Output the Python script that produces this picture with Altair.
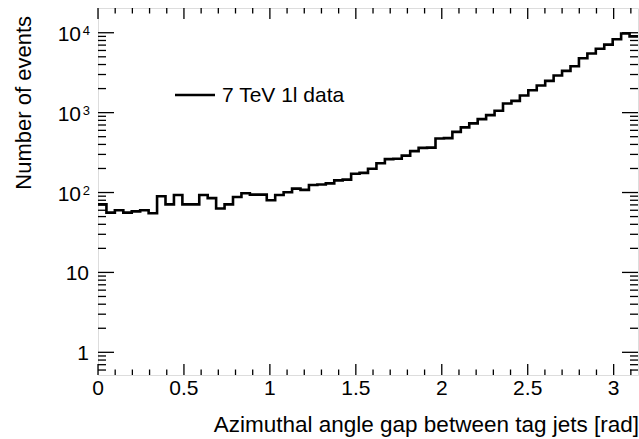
import altair as alt
import numpy as np
import pandas as pd

# Event counts per azimuthal-angle bin (64 equal bins from 0 to pi)
counts = [
    71, 56, 60, 56, 58, 60, 55, 90, 71, 93,
    71, 71, 93, 85, 63, 71, 88, 98, 94, 94,
    80, 93, 101, 112, 108, 124, 126, 130, 142, 145,
    172, 176, 198, 232, 262, 265, 290, 330, 362, 365,
    475, 480, 574, 653, 733, 830, 931, 1054, 1303, 1405,
    1641, 1910, 2188, 2500, 2917, 3334, 3810, 4800, 5500, 6300,
    7100, 8300, 9800, 9000,
]
n_bins = len(counts)

x_major = [0, 0.5, 1, 1.5, 2, 2.5, 3]
x_labels = ["0", "0.5", "1", "1.5", "2", "2.5", "3"]
y_major = [1, 10, 100, 1000, 10000]
y_base = ["1", "10", "10", "10", "10"]
y_exp = ["", "", "2", "3", "4"]

legend_label = "7 TeV 1l data"
x_title = "Azimuthal angle gap between tag jets [rad]"
y_title = "Number of events"

W, H = 540, 367
FONT = "Liberation Sans"

edges = np.linspace(0, np.pi, n_bins + 1)
hist = pd.DataFrame({"x": edges, "n": counts + [counts[-1]]})

x_minor = [round(0.1 * i, 1) for i in range(32) if (i % 5) != 0]
y_minor = [m * 10.0 ** d for d in range(-1, 4) for m in range(2, 10) if m * 10.0 ** d > 0.52]

xs = alt.Scale(domain=[0, float(np.pi)], nice=False, zero=False)
ys = alt.Scale(type="log", domain=[0.52, 20400], nice=False)

def X(f):
    return alt.X(f, type="quantitative", scale=xs, axis=None)

def Y(f):
    return alt.Y(f, type="quantitative", scale=ys, axis=None)

line = alt.Chart(hist).mark_line(
    interpolate="step-after", color="black", strokeWidth=2.6
).encode(x=X("x"), y=Y("n"))

xt_major = pd.DataFrame({"t": x_major, "label": x_labels})
xt_minor = pd.DataFrame({"t": x_minor})
yt_major = pd.DataFrame({"t": y_major, "base": y_base, "exp": y_exp})
yt_minor = pd.DataFrame({"t": y_minor})

tick_style = dict(color="black", strokeWidth=1.3)
layers = [line]
# ticks pointing into the frame on all four sides
for df, ln in ((xt_major, 11), (xt_minor, 5.5)):
    layers.append(alt.Chart(df).mark_rule(**tick_style).encode(
        x=X("t"), y=alt.value(H), y2=alt.value(H - ln)))
    layers.append(alt.Chart(df).mark_rule(**tick_style).encode(
        x=X("t"), y=alt.value(0), y2=alt.value(ln)))
for df, ln in ((yt_major, 16), (yt_minor, 8)):
    layers.append(alt.Chart(df).mark_rule(**tick_style).encode(
        y=Y("t"), x=alt.value(0), x2=alt.value(ln)))
    layers.append(alt.Chart(df).mark_rule(**tick_style).encode(
        y=Y("t"), x=alt.value(W), x2=alt.value(W - ln)))

# tick labels
layers.append(alt.Chart(xt_major).mark_text(
    font=FONT, fontSize=21, align="center", baseline="alphabetic", color="black"
).encode(x=X("t"), y=alt.value(H + 20), text="label:N"))

layers.append(alt.Chart(yt_major).transform_filter("datum.exp == ''").mark_text(
    font=FONT, fontSize=21, align="right", baseline="alphabetic", dy=8, color="black"
).encode(y=Y("t"), x=alt.value(-9), text="base:N"))
layers.append(alt.Chart(yt_major).transform_filter("datum.exp != ''").mark_text(
    font=FONT, fontSize=21, align="right", baseline="alphabetic", dy=8, color="black"
).encode(y=Y("t"), x=alt.value(-17), text="base:N"))
layers.append(alt.Chart(yt_major).transform_filter("datum.exp != ''").mark_text(
    font=FONT, fontSize=13, align="right", baseline="alphabetic", dy=2, color="black"
).encode(y=Y("t"), x=alt.value(-8), text="exp:N"))

# axis titles
layers.append(alt.Chart(pd.DataFrame({"s": [x_title]})).mark_text(
    font=FONT, fontSize=22.5, align="right", baseline="alphabetic", color="black"
).encode(x=alt.value(W + 1), y=alt.value(424), text="s:N"))
layers.append(alt.Chart(pd.DataFrame({"s": [y_title]})).mark_text(
    font=FONT, fontSize=22, align="right", baseline="alphabetic", angle=270, color="black"
).encode(x=alt.value(-67), y=alt.value(8), text="s:N"))

# legend
legend_df = pd.DataFrame({"s": [legend_label]})
layers.append(alt.Chart(legend_df).mark_rule(color="black", strokeWidth=2.6).encode(
    x=alt.value(77), x2=alt.value(117), y=alt.value(87)))
layers.append(alt.Chart(legend_df).mark_text(
    font=FONT, fontSize=21, align="left", baseline="middle", color="black"
).encode(x=alt.value(124), y=alt.value(88), text="s:N"))

chart = alt.layer(*layers).properties(
    width=W, height=H,
    autosize=alt.AutoSizeParams(type="none"),
    padding={"left": 98, "top": 8, "right": 1, "bottom": 64},
).configure_view(stroke="black", strokeWidth=1.8).configure(background="white")

chart.save("out.html", embed_options={"renderer": "svg", "actions": False})
